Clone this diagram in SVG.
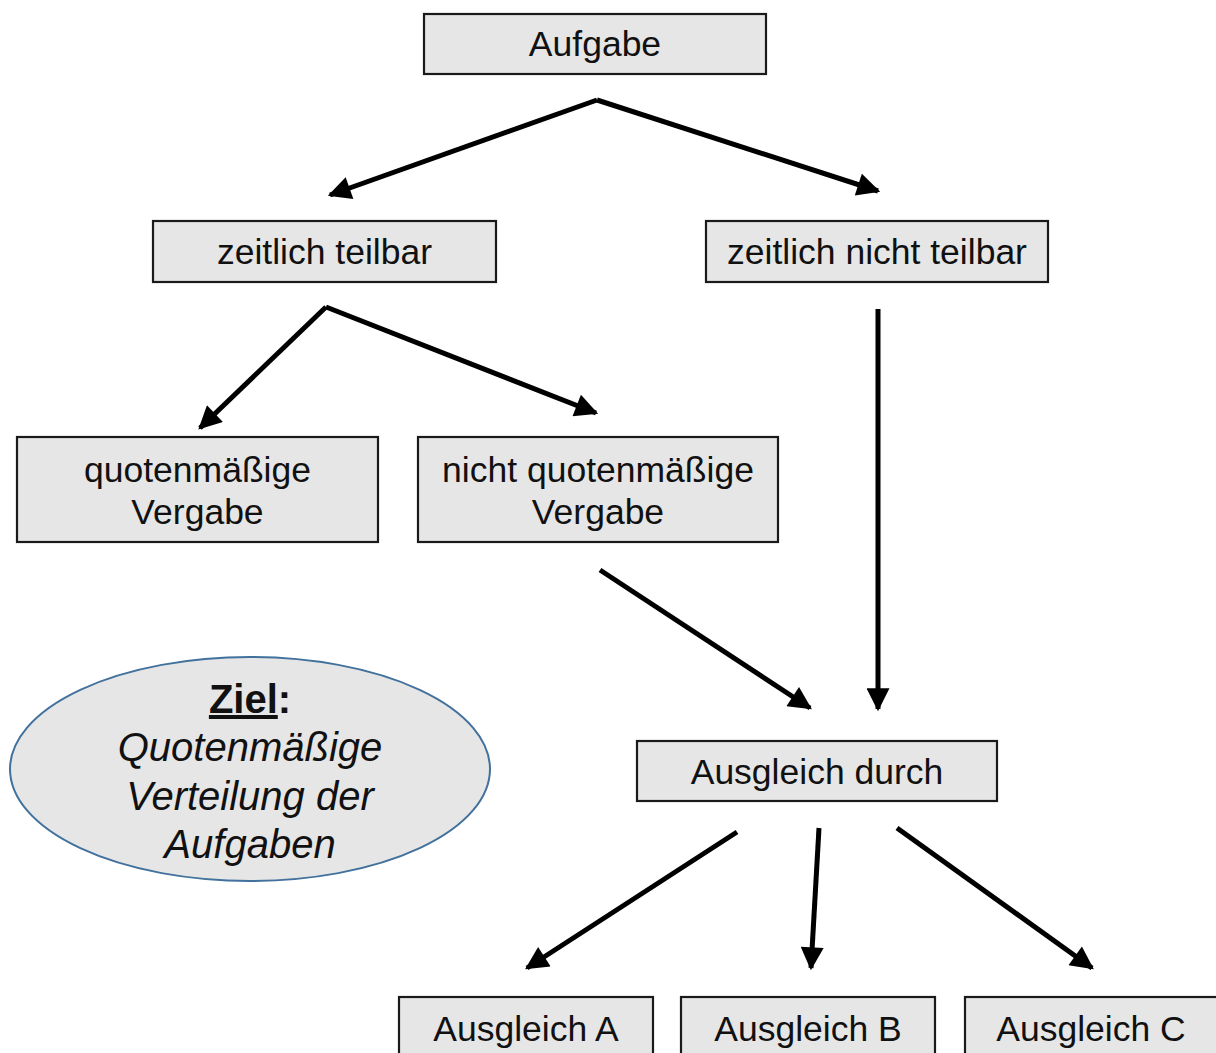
<svg xmlns="http://www.w3.org/2000/svg" width="1216" height="1053" viewBox="0 0 1216 1053">
<defs>
<marker id="ah" viewBox="0 0 10 10" refX="9" refY="5" markerWidth="5" markerHeight="4.6" markerUnits="strokeWidth" orient="auto">
<path d="M0,0 L10,5 L0,10 z" fill="#000"/>
</marker>
<style>
.box{fill:#e6e6e6;stroke:#1a1a1a;stroke-width:2.2}
.t{font-family:"Liberation Sans",Arial,sans-serif;font-size:35.5px;fill:#111;text-anchor:middle}
.e{font-family:"Liberation Sans",Arial,sans-serif;font-size:40px;fill:#111;text-anchor:middle}
.c{stroke:#000;stroke-width:5;fill:none;marker-end:url(#ah)}
</style>
</defs>
<rect width="1216" height="1053" fill="#fff"/>
<g id="n-aufgabe"><rect class="box" x="424" y="14" width="342" height="60"/><text class="t" x="595" y="56">Aufgabe</text></g>
<g id="n-teilbar"><rect class="box" x="153" y="221" width="343" height="61"/><text class="t" x="324.5" y="264">zeitlich teilbar</text></g>
<g id="n-nichtteilbar"><rect class="box" x="706" y="221" width="342" height="61"/><text class="t" x="877" y="264">zeitlich nicht teilbar</text></g>
<g id="n-quoten"><rect class="box" x="17" y="437" width="361" height="105"/><text class="t" x="197.5" y="482">quotenmäßige</text><text class="t" x="197.5" y="524">Vergabe</text></g>
<g id="n-nichtquoten"><rect class="box" x="418" y="437" width="360" height="105"/><text class="t" x="598" y="482">nicht quotenmäßige</text><text class="t" x="598" y="524">Vergabe</text></g>
<g id="n-ausgleich"><rect class="box" x="637" y="741" width="360" height="60"/><text class="t" x="817" y="784">Ausgleich durch</text></g>
<g id="n-a"><rect class="box" x="399" y="997" width="254" height="70"/><text class="t" x="526" y="1041">Ausgleich A</text></g>
<g id="n-b"><rect class="box" x="681" y="997" width="254" height="70"/><text class="t" x="808" y="1041">Ausgleich B</text></g>
<g id="n-c"><rect class="box" x="965" y="997" width="260" height="70"/><text class="t" x="1091" y="1041">Ausgleich C</text></g>
<g id="n-ziel">
<ellipse cx="250" cy="769" rx="240" ry="112" fill="#e6e6e6" stroke="#41719c" stroke-width="2"/>
<text class="e" x="250" y="713" font-weight="bold"><tspan text-decoration="underline">Ziel</tspan>:</text>
<text class="e" x="250" y="761" font-style="italic">Quotenmäßige</text>
<text class="e" x="250" y="810" font-style="italic">Verteilung der</text>
<text class="e" x="250" y="858" font-style="italic">Aufgaben</text>
</g>
<g id="connectors">
<path class="c" d="M597,100 L330,195"/>
<path class="c" d="M597,100 L878,191"/>
<path class="c" d="M326,307 L200,428"/>
<path class="c" d="M326,307 L596,413"/>
<path class="c" d="M878,309 L878,709"/>
<path class="c" d="M600,570 L810,708"/>
<path class="c" d="M737,832 L527,968"/>
<path class="c" d="M819,828 L811,968"/>
<path class="c" d="M897,828 L1092,968"/>
</g>
</svg>
